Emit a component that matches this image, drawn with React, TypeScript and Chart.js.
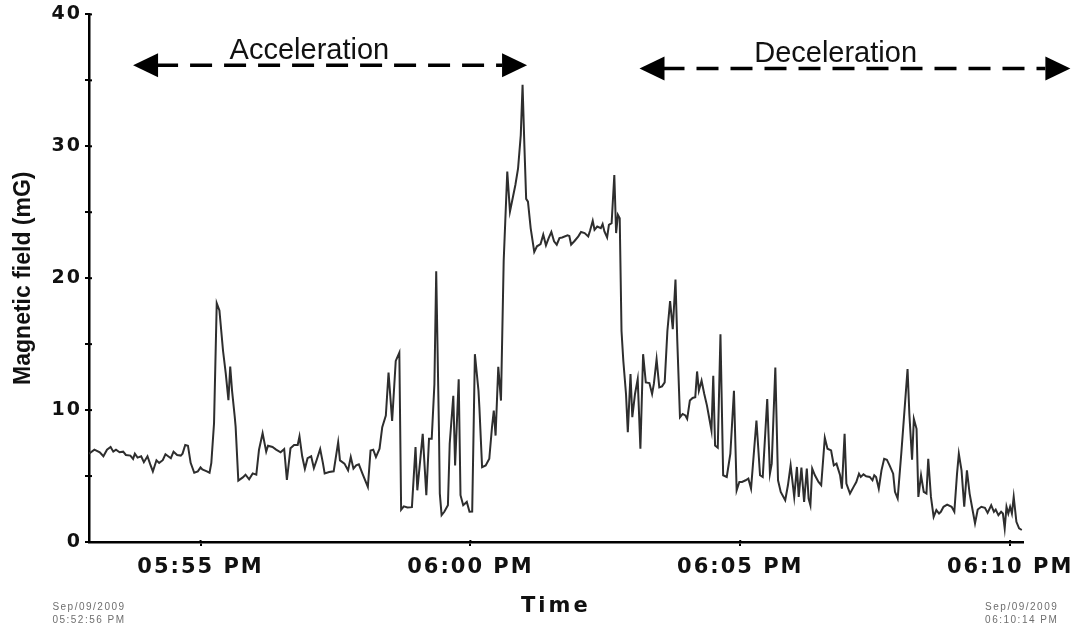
import React, { useEffect, useRef } from 'react';
import { Chart, registerables } from 'chart.js';

Chart.register(...registerables);

// Clock time of the first sample: 05:52:56 PM (seconds since midnight)
const START_CLOCK_SEC = 17 * 3600 + 52 * 60 + 56;
// Last sample: 06:10:14 PM -> 1038 s after start
const END_ELAPSED_SEC = 1038;

// X tick positions (elapsed seconds): 05:55, 06:00, 06:05, 06:10 PM
const xTickElapsed = [124, 424, 724, 1024];
const yMin = 0;
const yMax = 40;
const yStep = 5;

const startDateLabel = ['Sep/09/2009', '05:52:56 PM'];
const endDateLabel = ['Sep/09/2009', '06:10:14 PM'];
const yTitle = 'Magnetic field (mG)';
const xTitle = 'Time';

// Phase annotations
const phaseLabels = ['Acceleration', 'Deceleration'];
const phaseFrom = [49, 612];
const phaseTo = [487, 1091];
const phaseArrowValue = [36.15, 35.9];
const phaseLabelAt = [245, 830];
const phaseLabelValue = [37.4, 37.15];

// Elapsed time (s) since 05:52:56 PM
const elapsedSec = [
  0, 6, 12, 16, 20, 24, 27, 30, 34, 38, 41, 46, 49, 51, 54, 58, 61, 65, 68, 71,
  75, 78, 82, 85, 88, 91, 94, 98, 102, 104, 107, 110, 113, 117, 121, 124, 126, 131, 134, 136,
  139, 142, 145, 149, 152, 155, 157, 159, 162, 163, 166, 171, 174, 178, 182, 186, 189, 193, 197, 199,
  204, 208, 213, 217, 220, 224, 228, 232, 234, 237, 240, 243, 247, 250, 253, 257, 260, 262, 267, 272,
  277, 279, 284, 288, 291, 294, 297, 300, 304, 310, 313, 316, 319, 323, 326, 330, 333, 337, 341, 345,
  347, 350, 354, 359, 363, 365, 371, 375, 378, 381, 384, 386, 389, 390, 392, 395, 399, 401, 405, 407,
  411, 413, 416, 420, 423, 426, 429, 433, 434, 437, 441, 445, 448, 450, 452, 455, 458, 461, 465, 468,
  471, 474, 477, 480, 482, 484, 486, 488, 491, 495, 498, 502, 505, 508, 511, 514, 517, 520, 523, 526,
  532, 534, 536, 540, 544, 547, 551, 555, 557, 560, 562, 565, 569, 571, 573, 576, 578, 581, 584, 586,
  588, 590, 592, 594, 597, 599, 602, 604, 607, 610, 613, 616, 619, 623, 626, 628, 631, 634, 637, 640,
  643, 646, 649, 652, 654, 657, 660, 663, 665, 668, 671, 674, 676, 678, 681, 684, 687, 690, 692, 694,
  696, 699, 702, 705, 709, 713, 717, 720, 723, 726, 730, 733, 736, 742, 746, 749, 754, 757, 759, 763,
  766, 769, 774, 777, 780, 784, 787, 789, 792, 795, 798, 800, 802, 804, 807, 811, 814, 818, 821, 825,
  828, 831, 835, 837, 840, 842, 846, 850, 853, 856, 858, 861, 864, 868, 871, 873, 875, 878, 881, 884,
  887, 890, 894, 896, 899, 903, 910, 912, 915, 917, 920, 922, 925, 928, 931, 933, 936, 939, 942, 945,
  947, 950, 954, 959, 962, 965, 967, 970, 973, 976, 979, 983, 985, 988, 992, 996, 999, 1003, 1006, 1008,
  1011, 1014, 1016, 1018, 1020, 1022, 1024, 1026, 1028, 1031, 1034, 1037,
];

// Magnetic field (mG)
const fieldMG = [
  6.7, 7.0, 6.8, 6.5, 7.0, 7.2, 6.85, 7.0, 6.8, 6.85, 6.6, 6.55, 6.3, 6.7, 6.4, 6.5, 6.05, 6.5, 5.9, 5.35,
  6.2, 6.0, 6.2, 6.65, 6.5, 6.35, 6.85, 6.6, 6.55, 6.7, 7.35, 7.3, 6.0, 5.25, 5.35, 5.65, 5.5, 5.35, 5.25, 6.0,
  9.0, 18.1, 17.55, 14.5, 12.8, 10.75, 13.3, 11.5, 9.5, 8.75, 4.65, 4.9, 5.1, 4.75, 5.2, 5.1, 7.0, 8.25, 6.85, 7.3,
  7.2, 7.0, 6.8, 7.05, 4.7, 7.1, 7.35, 7.35, 8.0, 6.5, 5.55, 6.35, 6.5, 5.6, 6.2, 7.05, 6.0, 5.2, 5.31, 5.36,
  7.57, 6.19, 5.94, 5.43, 6.44, 5.56, 5.81, 5.89, 5.18, 4.17, 6.94, 7.0, 6.44, 7.07, 8.7, 9.58, 12.85, 9.18, 13.73, 14.36,
  2.45, 2.7, 2.62, 2.64, 7.19, 3.92, 8.2, 3.55, 7.82, 7.82, 11.98, 20.53, 8.7, 3.67, 2.04, 2.29, 2.79, 7.45, 11.09, 5.81,
  12.33, 3.55, 2.79, 3.04, 2.29, 2.31, 14.24, 11.47, 10.21, 5.68, 5.81, 6.31, 8.7, 9.96, 8.07, 13.28, 10.72, 21.28, 28.08, 25.06,
  26.06, 27.07, 28.33, 30.85, 34.67, 30.09, 26.01, 25.81, 23.8, 21.99, 22.42, 22.59, 23.3, 22.49, 23.04, 23.5, 22.79, 22.54, 23.04, 23.09,
  23.25, 23.2, 22.54, 22.84, 23.17, 23.5, 23.42, 23.17, 23.6, 24.35, 23.67, 23.92, 23.8, 24.1, 23.55, 23.09, 24.05, 24.17, 27.82, 23.42,
  24.8, 24.55, 16.0, 13.74, 11.22, 8.32, 12.73, 9.46, 11.22, 12.35, 7.07, 14.24, 12.1, 12.05, 11.22, 12.0, 13.86, 11.72, 11.8, 12.1,
  16.0, 18.26, 16.13, 19.9, 15.25, 9.46, 9.71, 9.59, 9.33, 10.72, 10.92, 10.97, 12.93, 11.47, 12.23, 11.22, 10.34, 9.21, 8.45, 12.6,
  7.32, 7.15, 15.75, 5.06, 4.93, 6.69, 11.47, 3.92, 4.55, 4.55, 4.68, 4.81, 4.05, 9.21, 5.06, 4.93, 10.84, 5.18, 5.94, 13.23,
  4.68, 3.8, 3.17, 4.3, 5.81, 3.42, 5.69, 3.42, 5.64, 3.04, 5.56, 3.3, 2.79, 5.56, 5.06, 4.55, 4.3, 7.9, 7.07, 6.94,
  5.81, 5.94, 5.06, 4.05, 8.2, 4.43, 3.67, 4.18, 4.55, 5.18, 4.93, 5.13, 4.98, 4.93, 4.68, 5.06, 4.93, 4.05, 5.43, 6.31,
  6.24, 5.81, 5.18, 3.8, 3.3, 6.69, 13.11, 9.71, 6.24, 9.33, 8.58, 3.42, 5.06, 3.8, 3.67, 6.31, 3.42, 1.91, 2.42, 2.16,
  2.29, 2.67, 2.84, 2.67, 2.29, 5.18, 6.69, 5.43, 2.67, 5.43, 3.67, 2.16, 1.41, 2.46, 2.67, 2.59, 2.21, 2.79, 2.29, 2.46,
  2.04, 2.29, 2.16, 1.03, 2.67, 2.16, 2.67, 2.16, 3.42, 1.53, 1.03, 0.91,
];

function clockLabel(elapsed: number): string {
  const total = START_CLOCK_SEC + elapsed;
  const h24 = Math.floor(total / 3600) % 24;
  const m = Math.floor((total % 3600) / 60);
  const h12 = h24 % 12 === 0 ? 12 : h24 % 12;
  const pad = (n: number) => (n < 10 ? '0' + n : '' + n);
  return `${pad(h12)}:${pad(m)} ${h24 >= 12 ? 'PM' : 'AM'}`;
}

const decorPlugin = {
  id: 'decor',
  beforeDraw(chart: any) {
    (chart.ctx as any).letterSpacing = '2px';
  },
  afterDraw(chart: any) {
    const ctx = chart.ctx as any;
    const xs = chart.scales.x;
    const ys = chart.scales.y;
    ctx.save();
    ctx.fillStyle = '#111';
    ctx.strokeStyle = '#111';

    // inner halves of the axis tick marks (ticks cross the axis line)
    ctx.save();
    ctx.strokeStyle = '#000';
    ctx.lineWidth = 2;
    ys.ticks.forEach((t: any) => {
      const py = ys.getPixelForValue(t.value);
      ctx.beginPath();
      ctx.moveTo(xs.left, py);
      ctx.lineTo(xs.left + 3, py);
      ctx.stroke();
    });
    xs.ticks.forEach((t: any) => {
      const px = xs.getPixelForValue(t.value);
      ctx.beginPath();
      ctx.moveTo(px, ys.bottom);
      ctx.lineTo(px, ys.bottom - 2);
      ctx.stroke();
    });
    ctx.restore();

    // Y axis title
    ctx.save();
    ctx.letterSpacing = '0px';
    ctx.translate(24, (ys.top + ys.bottom) / 2);
    ctx.rotate(-Math.PI / 2);
    ctx.font = 'bold 23px "Liberation Sans", Arial, sans-serif';
    ctx.textAlign = 'center';
    ctx.textBaseline = 'middle';
    ctx.fillText(yTitle, 0, 0);
    ctx.restore();

    // X axis title
    ctx.save();
    ctx.letterSpacing = '3px';
    ctx.font = 'bold 21px "DejaVu Sans", sans-serif';
    ctx.textAlign = 'center';
    ctx.textBaseline = 'middle';
    ctx.fillText(xTitle, (xs.left + xs.right) / 2, 607);
    ctx.restore();

    // start / end date stamps
    ctx.save();
    ctx.letterSpacing = '1.5px';
    ctx.font = '10px "Liberation Sans", Arial, sans-serif';
    ctx.fillStyle = '#6e6e6e';
    ctx.textAlign = 'center';
    ctx.textBaseline = 'middle';
    const xl = xs.getPixelForValue(0);
    const xr = xs.getPixelForValue(END_ELAPSED_SEC);
    ctx.fillText(startDateLabel[0], xl, 607);
    ctx.fillText(startDateLabel[1], xl, 620);
    ctx.fillText(endDateLabel[0], xr - 1, 607);
    ctx.fillText(endDateLabel[1], xr - 1, 620);
    ctx.restore();

    // Phase arrows and labels
    for (let i = 0; i < phaseLabels.length; i++) {
      const x1 = xs.getPixelForValue(phaseFrom[i]);
      const x2 = xs.getPixelForValue(phaseTo[i]);
      const y = ys.getPixelForValue(phaseArrowValue[i]);
      const head = 25;
      const half = 12;
      ctx.save();
      ctx.fillStyle = '#000';
      ctx.strokeStyle = '#000';
      ctx.lineWidth = 3.5;
      ctx.setLineDash([22, 12]);
      ctx.beginPath();
      ctx.moveTo(x1 + head - 2, y);
      ctx.lineTo(x2 - head, y);
      ctx.stroke();
      ctx.setLineDash([]);
      ctx.beginPath();
      ctx.moveTo(x1, y);
      ctx.lineTo(x1 + head, y - half);
      ctx.lineTo(x1 + head, y + half);
      ctx.closePath();
      ctx.fill();
      ctx.beginPath();
      ctx.moveTo(x2, y);
      ctx.lineTo(x2 - head, y - half);
      ctx.lineTo(x2 - head, y + half);
      ctx.closePath();
      ctx.fill();

      ctx.letterSpacing = '0px';
      ctx.font = '29px "Liberation Sans", Arial, sans-serif';
      ctx.textAlign = 'center';
      ctx.textBaseline = 'alphabetic';
      ctx.fillStyle = '#111';
      ctx.fillText(
        phaseLabels[i],
        xs.getPixelForValue(phaseLabelAt[i]),
        ys.getPixelForValue(phaseLabelValue[i]) + 10
      );
      ctx.restore();
    }
    ctx.restore();
  },
};

export default function App() {
  const canvasRef = useRef<HTMLCanvasElement | null>(null);

  useEffect(() => {
    const canvas = canvasRef.current;
    if (!canvas) return;
    const points = elapsedSec.map((t, i) => ({ x: t, y: fieldMG[i] }));
    const chart = new Chart(canvas, {
      type: 'line',
      data: {
        datasets: [
          {
            data: points,
            borderColor: '#2e2e2e',
            borderWidth: 2,
            pointRadius: 0,
            tension: 0,
            fill: false,
          },
        ],
      },
      options: {
        animation: false,
        responsive: false,
        devicePixelRatio: 1,
        layout: { padding: { left: 0, right: 50, top: 13, bottom: 0 } },
        plugins: {
          legend: { display: false },
          tooltip: { enabled: false },
        },
        scales: {
          x: {
            type: 'linear',
            min: 0,
            max: END_ELAPSED_SEC,
            afterBuildTicks: (scale: any) => {
              scale.ticks = xTickElapsed.map((v) => ({ value: v }));
            },
            afterFit: (scale: any) => {
              scale.height = 87;
            },
            ticks: {
              callback: (v: any) => clockLabel(Number(v)),
              autoSkip: false,
              maxRotation: 0,
              padding: 9,
              color: '#111',
              font: { family: '"DejaVu Sans", sans-serif', weight: 'bold', size: 21 },
            },
            grid: {
              drawOnChartArea: false,
              drawTicks: true,
              tickLength: 4,
              color: '#000',
              lineWidth: 2,
            },
            border: { display: true, color: '#000', width: 2.5 },
          },
          y: {
            type: 'linear',
            min: yMin,
            max: yMax,
            afterFit: (scale: any) => {
              scale.width = 89;
            },
            ticks: {
              stepSize: yStep,
              callback: (v: any) => (Number(v) % 10 === 0 ? String(v) : ''),
              padding: 3,
              color: '#111',
              font: { family: '"DejaVu Sans", sans-serif', weight: 'bold', size: 19 },
            },
            grid: {
              drawOnChartArea: false,
              drawTicks: true,
              tickLength: 4,
              color: '#000',
              lineWidth: 2,
            },
            border: { display: true, color: '#000', width: 2.5 },
          },
        },
      },
      plugins: [decorPlugin],
    });
    return () => {
      chart.destroy();
    };
  }, []);

  return (
    <div style={{ position: 'fixed', left: 0, top: 0, width: 1075, height: 629, background: '#fff' }}>
      <canvas ref={canvasRef} width={1075} height={629} style={{ width: 1075, height: 629, display: 'block' }} />
    </div>
  );
}
